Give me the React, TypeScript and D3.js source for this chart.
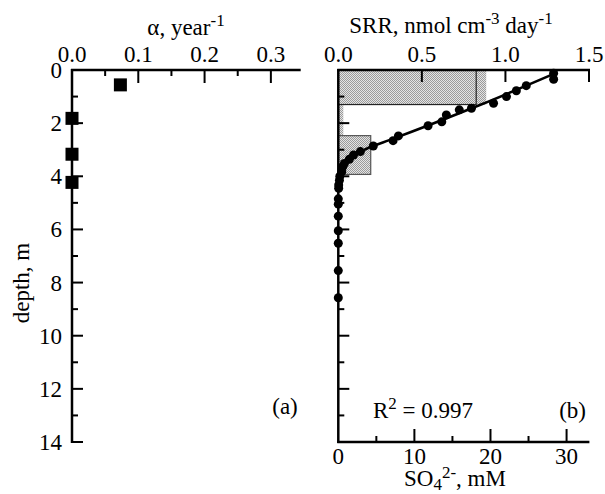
import React from "react";
import * as d3 from "d3";

const depthTicks = [0, 2, 4, 6, 8, 10, 12, 14];
const depthMinor = [1, 3, 5, 7, 9, 11, 13];
const alphaTicks = [0.0, 0.1, 0.2, 0.3];
const alphaMinor = [0.05, 0.15, 0.25];
const srrTicks = [0.0, 0.5, 1.0, 1.5];
const so4Ticks = [0, 10, 20, 30];
const so4Minor = [5, 15, 25];

// alpha squares
const alphaDepth = [0.56, 1.82, 3.17, 4.23];
const alphaValues = [0.073, 0.0, 0.0, 0.0];

// SRR histogram (gray fill) and outlined histogram
const srrTop = [0, 1.3, 2.47];
const srrBottom = [1.3, 2.47, 3.93];
const srrFill = [0.885, 0.03, 0.194];
const srrOutline = [0.825, 0, 0.194];

// sulfate profile
const so4Depth = [0.12, 0.35, 0.59, 0.78, 1.0, 1.25, 1.44, 1.5, 1.69, 1.95, 2.1, 2.48, 2.66, 2.86, 3.07, 3.2, 3.36, 3.52, 3.64, 3.83, 4.0, 4.15, 4.33, 4.45, 4.85, 5.05, 5.5, 6.05, 6.52, 7.55, 8.57];
const so4Values = [28.3, 28.3, 24.7, 23.4, 22.1, 20.4, 17.5, 15.9, 14.2, 13.6, 11.8, 7.9, 7.2, 4.6, 2.9, 2.0, 1.45, 0.8, 0.58, 0.45, 0.2, 0.15, 0.05, 0.05, 0, 0, 0, 0, 0, 0, 0];

// fitted curve
const fitDepth = [0.1, 1.32, 2.63, 2.9, 3.39, 3.76, 4.14, 4.6];
const fitValues = [28.7, 18.6, 6.8, 4.2, 1.5, 0.35, 0.1, 0];

const FONT = "'Liberation Serif', 'Times New Roman', serif";
const FS = 23;

export default function App() {
  const y = d3.scaleLinear().domain([0, 14]).range([70, 442]);
  const xA = d3.scaleLinear().domain([0, 0.345]).range([72, 300.7]);
  const xS = d3.scaleLinear().domain([0, 1.5]).range([338.3, 589]);
  const xC = d3.scaleLinear().domain([0, 33]).range([338.3, 589.4]);

  const fitLine = d3
    .line<number>()
    .x((_, i) => xC(fitValues[i]))
    .y((d) => y(d))
    .curve(d3.curveMonotoneY)(fitDepth) as string;

  const sq = 13;
  const tw = 2;

  return (
    <svg
      width={605}
      height={494}
      style={{ position: "absolute", left: 0, top: 0, background: "#fff" }}
      fontFamily={FONT}
    >
      <defs>
        <pattern id="chk" width={2} height={2} patternUnits="userSpaceOnUse">
          <rect width={2} height={2} fill="#e4e4e4" />
          <rect width={1} height={1} fill="#9a9a9a" />
          <rect x={1} y={1} width={1} height={1} fill="#9a9a9a" />
        </pattern>
      </defs>
      <rect width={605} height={494} fill="#fff" />

      {/* ===== Panel (a) ===== */}
      <line x1={xA(0)} x2={xA(0)} y1={y(0) - 1} y2={y(14) + 1} stroke="#000" strokeWidth={2.5} />
      {depthTicks.map((d) => (
        <line key={"am" + d} x1={xA(0)} x2={xA(0) + 11} y1={y(d)} y2={y(d)} stroke="#000" strokeWidth={tw} />
      ))}
      {depthMinor.map((d) => (
        <line key={"an" + d} x1={xA(0)} x2={xA(0) + 6} y1={y(d)} y2={y(d)} stroke="#000" strokeWidth={tw} />
      ))}
      {depthTicks.map((d) => (
        <text key={"al" + d} x={62} y={y(d)} dy="0.35em" fontSize={FS} textAnchor="end">
          {d}
        </text>
      ))}
      <line x1={xA(0) - 1} x2={xA(0.345)} y1={y(0)} y2={y(0)} stroke="#000" strokeWidth={2.5} />
      {alphaTicks.slice(1).map((t) => (
        <line key={"atm" + t} x1={xA(t)} x2={xA(t)} y1={y(0)} y2={y(0) + 13} stroke="#000" strokeWidth={tw} />
      ))}
      {alphaMinor.map((t) => (
        <line key={"atn" + t} x1={xA(t)} x2={xA(t)} y1={y(0)} y2={y(0) + 6} stroke="#000" strokeWidth={tw} />
      ))}
      {alphaTicks.map((t) => (
        <text key={"atl" + t} x={xA(t)} y={62} fontSize={FS} textAnchor="middle">
          {t.toFixed(1)}
        </text>
      ))}
      <text x={186} y={35} fontSize={FS} textAnchor="middle">
        α, year<tspan dy={-9} fontSize={17}>-1</tspan>
      </text>
      <text transform="translate(29,283) rotate(-90)" fontSize={FS} textAnchor="middle">
        depth, m
      </text>
      {alphaValues.map((v, i) => (
        <rect key={"sq" + i} x={xA(v) - sq / 2} y={y(alphaDepth[i]) - sq / 2} width={sq} height={sq} fill="#000" />
      ))}
      <text x={285} y={414} fontSize={FS} textAnchor="middle">
        (a)
      </text>

      {/* ===== Panel (b) ===== */}
      {srrFill.map((v, i) => (
        <rect
          key={"bf" + i}
          x={xS(0)}
          y={y(srrTop[i])}
          width={xS(v) - xS(0)}
          height={y(srrBottom[i]) - y(srrTop[i])}
          fill="url(#chk)"
        />
      ))}
      {srrOutline.map((v, i) =>
        v > 0 ? (
          <rect
            key={"bo" + i}
            x={xS(0)}
            y={y(srrTop[i])}
            width={xS(v) - xS(0)}
            height={y(srrBottom[i]) - y(srrTop[i])}
            fill="none"
            stroke={i === 0 ? "#222" : "#555"}
            strokeWidth={1.2}
          />
        ) : null
      )}
      <line x1={xS(0)} x2={xS(0)} y1={y(0) - 1} y2={y(14) + 1} stroke="#000" strokeWidth={2.5} />
      {depthTicks.slice(1, -1).map((d) => (
        <line key={"bm" + d} x1={xS(0)} x2={xS(0) + 11} y1={y(d)} y2={y(d)} stroke="#000" strokeWidth={tw} />
      ))}
      {depthMinor.map((d) => (
        <line key={"bn" + d} x1={xS(0)} x2={xS(0) + 6} y1={y(d)} y2={y(d)} stroke="#000" strokeWidth={tw} />
      ))}
      <line x1={xS(0) - 1} x2={xS(1.5) + 1} y1={y(0)} y2={y(0)} stroke="#000" strokeWidth={2.5} />
      {srrTicks.slice(1).map((t) => (
        <line key={"btm" + t} x1={xS(t)} x2={xS(t)} y1={y(0)} y2={y(0) + 12} stroke="#000" strokeWidth={tw} />
      ))}
      {srrTicks.map((t) => (
        <text key={"btl" + t} x={xS(t)} y={62} fontSize={FS} textAnchor="middle">
          {t.toFixed(1)}
        </text>
      ))}
      <text x={451} y={33} fontSize={FS} textAnchor="middle">
        SRR, nmol cm<tspan dy={-9} fontSize={17}>-3</tspan>
        <tspan dy={9}> day</tspan>
        <tspan dy={-9} fontSize={17}>-1</tspan>
      </text>
      <line x1={xC(0) - 1} x2={xC(33)} y1={y(14)} y2={y(14)} stroke="#000" strokeWidth={2.5} />
      {so4Ticks.slice(1).map((t) => (
        <line key={"bbm" + t} x1={xC(t)} x2={xC(t)} y1={y(14)} y2={y(14) - 13} stroke="#000" strokeWidth={tw} />
      ))}
      {so4Minor.map((t) => (
        <line key={"bbn" + t} x1={xC(t)} x2={xC(t)} y1={y(14)} y2={y(14) - 6} stroke="#000" strokeWidth={tw} />
      ))}
      {so4Ticks.map((t) => (
        <text key={"bbl" + t} x={xC(t)} y={464} fontSize={FS} textAnchor="middle">
          {t}
        </text>
      ))}
      <text x={455} y={486} fontSize={FS} textAnchor="middle">
        SO<tspan dy={4} fontSize={17}>4</tspan>
        <tspan dy={-12} fontSize={17}>2-</tspan>
        <tspan dy={8}>, mM</tspan>
      </text>
      <path d={fitLine} fill="none" stroke="#000" strokeWidth={2.6} />
      {so4Values.map((v, i) => (
        <circle key={"pt" + i} cx={xC(v)} cy={y(so4Depth[i])} r={4.5} fill="#000" />
      ))}
      <text x={373} y={418} fontSize={FS}>
        R<tspan dy={-9} fontSize={17}>2</tspan>
        <tspan dy={9}> = 0.997</tspan>
      </text>
      <text x={586} y={418} fontSize={FS} textAnchor="end">
        (b)
      </text>
    </svg>
  );
}
